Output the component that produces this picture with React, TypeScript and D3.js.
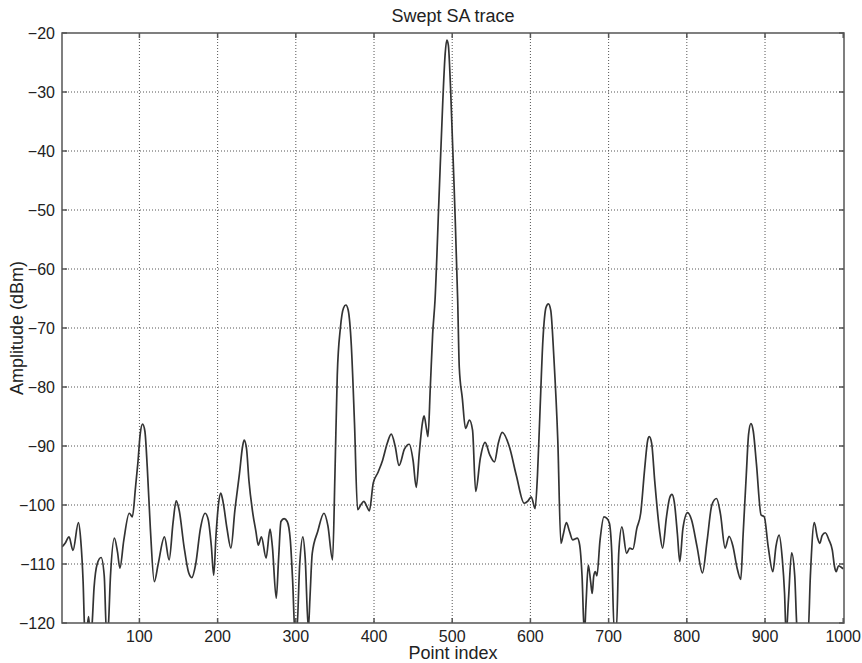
import React from "react";
import * as d3 from "d3";

const pointIndex = [
  1, 5, 10, 15, 22, 25, 28, 30, 32, 35, 37, 39, 42, 46, 51, 55, 58, 60, 63, 68, 72, 75, 80, 87, 91, 95, 98, 101, 104, 107, 110, 114, 119, 124, 132, 138, 143, 147, 151, 157, 163, 167, 172, 178, 184, 188, 192, 195, 198, 201, 204, 207, 212, 217, 222, 228, 232, 234, 237, 240, 245, 249, 252, 256, 262, 267, 270, 275, 278, 281, 285, 289, 293, 296, 299, 301, 305, 309, 312, 316, 318, 321, 328, 336, 341, 347, 350, 353, 357, 361, 364, 367, 371, 375, 379, 383, 387, 391, 394, 399, 405, 411, 417, 422, 427, 432, 439, 445, 450, 454, 458, 462, 464, 467, 469, 472, 475, 478, 483, 488, 491, 493, 495, 498, 503, 507, 509, 513, 517, 522, 526, 530, 536, 542, 548, 554, 559, 564, 573, 582, 592, 597, 601, 606, 609, 612, 616, 620, 623, 626, 630, 635, 639, 642, 646, 650, 654, 660, 663, 666, 669, 671, 674, 677, 679, 681, 683, 685, 689, 694, 698, 701, 704, 707, 710, 713, 717, 723, 727, 731, 736, 741, 746, 750, 752, 755, 759, 765, 769, 774, 778, 781, 784, 788, 791, 795, 801, 806, 813, 820, 826, 832, 838, 843, 849, 854, 859, 864, 869, 872, 876, 879, 882, 885, 889, 895, 899, 904, 910, 914, 918, 922, 925, 927, 930, 934, 938, 941, 944, 955, 958, 963, 967, 970, 973, 977, 982, 986, 989, 991, 994, 997, 1000,
];

const amplitudeDbm = [
  -107.1, -106.5, -105.4, -107.7, -103.0, -106, -113, -121, -122, -118.9, -122, -121, -114, -110, -108.9, -112, -122, -121, -112, -105.6, -108, -110.7, -106, -101.4, -102, -97, -92.9, -88, -86.3, -87.5, -93.5, -104, -113, -110, -105.4, -109.3, -103, -99.3, -101, -107, -111.5, -112.3, -110, -104, -101.4, -102.5, -107, -111.9, -105, -100, -98, -99.5, -104, -107.3, -101, -94.6, -90, -89, -90.5, -95.8, -101.4, -104.5, -106.8, -105.4, -109, -104.1, -107, -115.8, -109, -102.8, -102.3, -102.8, -106, -113, -122, -122, -110, -105.4, -109, -121, -116, -108.2, -104.5, -101.4, -103.5, -109.3, -95, -78, -70, -66.6, -66.1, -67, -73, -86, -100.8, -100, -99.4, -100.3, -101, -96.3, -94.5, -92.4, -89.5, -88, -90, -93.3, -90.5, -89.7, -92.5, -97, -91, -86, -84.9, -87, -88.4, -80, -71, -65.3, -48.3, -31.4, -23.5, -21.2, -22, -29.7, -48.3, -65.3, -76.6, -82, -87, -85.6, -87.3, -97.7, -92, -89.4, -91.5, -92.7, -89.5, -87.7, -90.1, -95, -99.7, -99.3, -98.6, -100.6, -95, -85, -72, -66.5, -65.9, -67, -75, -89, -106.5, -105, -103, -104.5, -105.9, -105.6, -106.8, -112, -122, -117, -110.2, -113, -115, -112, -111.3, -112, -106, -102, -102.3, -103.1, -108, -121, -121, -108, -103.7, -108.2, -107.3, -107.5, -104, -101.4, -94, -89, -88.4, -89.5, -96, -104.2, -107.3, -102, -98.8, -98.2, -99.5, -105, -109.6, -104, -101.3, -102.5, -107, -111.5, -106, -100, -98.9, -101.5, -107.3, -105.3, -107, -110.5, -112.6, -105, -95, -88, -86.2, -87.5, -93, -101.7, -102, -107, -111.3, -107, -105.1, -109, -115, -122, -116, -108.1, -112, -121, -122, -122, -112, -103, -105.5, -106.5, -105.2, -104.7, -106, -107.6, -110.5, -111.3, -110.3, -110.5, -110.8,
];

const xTicks = [100, 200, 300, 400, 500, 600, 700, 800, 900, 1000];
const yTicks = [-120, -110, -100, -90, -80, -70, -60, -50, -40, -30, -20];

const titleText = "Swept SA trace";
const xLabelText = "Point index";
const yLabelText = "Amplitude (dBm)";

const W = 862;
const H = 663;
const left = 62;
const right = 844;
const top = 33;
const bottom = 623;
const FONT = "'Liberation Sans', Arial, sans-serif";

export default function App() {
  const x = d3.scaleLinear().domain([1, 1001]).range([left, right]);
  const y = d3.scaleLinear().domain([-120, -20]).range([bottom, top]);
  const data = pointIndex.map((p, i) => [p, amplitudeDbm[i]] as [number, number]);
  const line = d3
    .line<[number, number]>()
    .x((d) => x(d[0]))
    .y((d) => y(d[1]))
    .curve(d3.curveMonotoneX);
  const tickLen = 5;
  const axisColor = "#555";
  const gridColor = "#555";
  return (
    <svg
      width={W}
      height={H}
      style={{ position: "absolute", left: 0, top: 0, background: "#fff" }}
      fontFamily={FONT}
    >
      <defs>
        <clipPath id="plotclip">
          <rect x={left} y={top} width={right - left} height={bottom - top} />
        </clipPath>
      </defs>
      <rect x={0} y={0} width={W} height={H} fill="#fff" />
      {xTicks.map((t) =>
        x(t) < right - 1 ? (
          <line
            key={"gx" + t}
            x1={x(t)}
            x2={x(t)}
            y1={top}
            y2={bottom}
            stroke={gridColor}
            strokeWidth={1}
            strokeDasharray="1,2"
          />
        ) : null
      )}
      {yTicks.map((t) =>
        t > -120 && t < -20 ? (
          <line
            key={"gy" + t}
            x1={left}
            x2={right}
            y1={y(t)}
            y2={y(t)}
            stroke={gridColor}
            strokeWidth={1}
            strokeDasharray="1,2"
          />
        ) : null
      )}
      <path
        d={line(data) || ""}
        fill="none"
        stroke="#333"
        strokeWidth={1.7}
        strokeLinejoin="round"
        clipPath="url(#plotclip)"
      />
      <rect
        x={left}
        y={top}
        width={right - left}
        height={bottom - top}
        fill="none"
        stroke={axisColor}
        strokeWidth={1.5}
      />
      {xTicks.map((t) => (
        <g key={"tx" + t}>
          <line x1={x(t)} x2={x(t)} y1={bottom} y2={bottom - tickLen} stroke={axisColor} strokeWidth={1.5} />
          <line x1={x(t)} x2={x(t)} y1={top} y2={top + tickLen} stroke={axisColor} strokeWidth={1.5} />
          <text x={x(t)} y={641.5} textAnchor="middle" fontSize={16} fill="#222">
            {t}
          </text>
        </g>
      ))}
      {yTicks.map((t) => (
        <g key={"ty" + t}>
          <line x1={left} x2={left + tickLen} y1={y(t)} y2={y(t)} stroke={axisColor} strokeWidth={1.5} />
          <line x1={right} x2={right - tickLen} y1={y(t)} y2={y(t)} stroke={axisColor} strokeWidth={1.5} />
          <text x={55} y={y(t) + 6} textAnchor="end" fontSize={16} fill="#222">
            {"\u2212" + Math.abs(t)}
          </text>
        </g>
      ))}
      <text x={(left + right) / 2} y={22} textAnchor="middle" fontSize={18} fill="#222">
        {titleText}
      </text>
      <text x={(left + right) / 2} y={659} textAnchor="middle" fontSize={18} fill="#222">
        {xLabelText}
      </text>
      <text
        transform={`translate(23, ${(top + bottom) / 2}) rotate(-90)`}
        textAnchor="middle"
        fontSize={18}
        fill="#222"
      >
        {yLabelText}
      </text>
    </svg>
  );
}
